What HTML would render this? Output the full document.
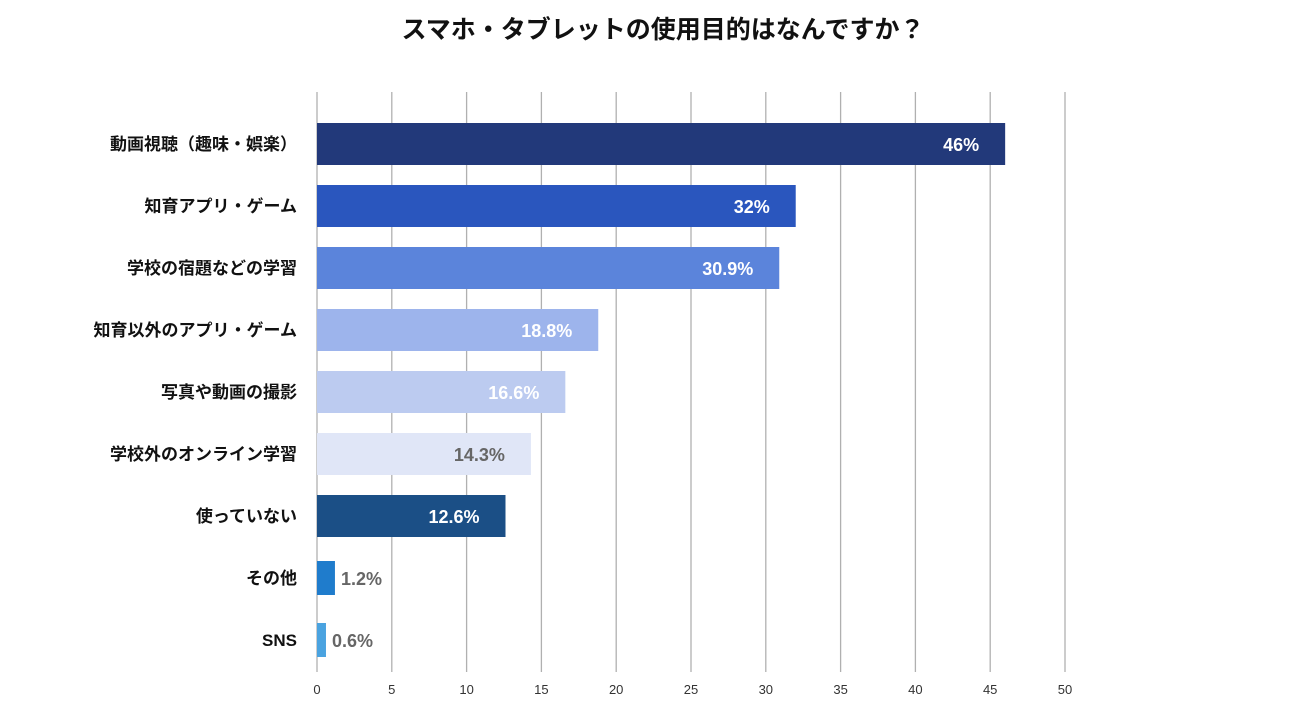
<!DOCTYPE html>
<html><head><meta charset="utf-8">
<style>
body{margin:0;background:#fff;}
svg{display:block;font-family:"Liberation Sans","Noto Sans CJK JP",sans-serif;}
</style></head>
<body>
<svg id="chart" width="1298" height="720" viewBox="0 0 1298 720">
<text x="663" y="38" text-anchor="middle" font-size="25" font-weight="bold" fill="#111">スマホ・タブレットの使用目的はなんですか？</text>
<g id="grid"></g><g id="bars"></g><g id="labels"></g>
</svg>
<script>
const categories=["動画視聴（趣味・娯楽）","知育アプリ・ゲーム","学校の宿題などの学習","知育以外のアプリ・ゲーム","写真や動画の撮影","学校外のオンライン学習","使っていない","その他","SNS"];
const values=[46,32,30.9,18.8,16.6,14.3,12.6,1.2,0.6];
const valueLabels=["46%","32%","30.9%","18.8%","16.6%","14.3%","12.6%","1.2%","0.6%"];
const ticks=[0,5,10,15,20,25,30,35,40,45,50];
const colors=["#22397a","#2a56be","#5b84db","#9db4ec","#bccbf0","#e0e6f7","#1b4f86","#1f7ccc","#4aa3e0"];
const labelColors=["#fff","#fff","#fff","#fff","#fff","#666","#fff","#666","#666"];
const NS="http://www.w3.org/2000/svg";
const x0=317,x1=1065,yTop=92,yBot=672;
const xs=v=>x0+(v/50)*(x1-x0);
const yc=i=>144+i*62;
function mk(tag,attrs,parent){const e=document.createElementNS(NS,tag);for(const k in attrs)e.setAttribute(k,attrs[k]);parent.appendChild(e);return e;}
const grid=document.getElementById('grid'),bars=document.getElementById('bars'),labels=document.getElementById('labels');
ticks.forEach(t=>{
  const l=mk('line',{x1:xs(t),x2:xs(t),y1:yTop,y2:yBot,stroke:'#b0b0b0','stroke-width':1.3},grid);
  
  
  const tx=mk('text',{x:xs(t),y:694,'text-anchor':'middle','font-size':13,fill:'#333'},grid);
  tx.textContent=t;
  
  
});
categories.forEach((c,i)=>{
  const h=i<7?42:34;
  const r=mk('rect',{x:x0,y:yc(i)-h/2,width:Math.max(xs(values[i])-x0,3),height:h,fill:colors[i]},bars);
  
  
  const cl=mk('text',{x:297,y:yc(i)+6,'text-anchor':'end','font-size':17,'font-weight':'bold',fill:'#111'},labels);
  cl.textContent=c;
  
  
  const inside=values[i]>5;
  const vl=mk('text',{x:inside?xs(values[i])-26:xs(values[i])+6,y:yc(i)+7,'text-anchor':inside?'end':'start','font-size':18,'font-weight':'bold',fill:labelColors[i]},labels);
  vl.textContent=valueLabels[i];
  
  
});
</script>
</body></html>
